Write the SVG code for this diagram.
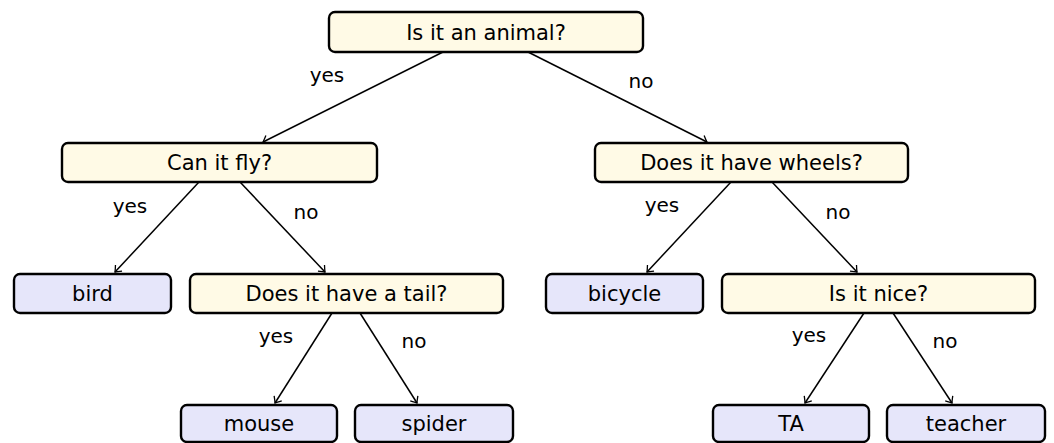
<svg xmlns="http://www.w3.org/2000/svg" width="1054" height="443" viewBox="0 0 1054 443">
<style>
.q{fill:#fffae6;stroke:#000;stroke-width:2.4}
.a{fill:#e6e6fa;stroke:#000;stroke-width:2.4}
.t{font-family:"DejaVu Sans",sans-serif;font-size:21px;text-anchor:middle;fill:#000}
.l{font-family:"DejaVu Sans",sans-serif;font-size:20px;text-anchor:middle;fill:#000}
.e{stroke:#000;stroke-width:1.5;fill:none;marker-end:url(#ah)}
</style>
<defs>
<marker id="ah" markerUnits="userSpaceOnUse" viewBox="-8 -6 12 12" markerWidth="12" markerHeight="12" refX="0" refY="0" orient="auto">
<path d="M-5.5,-4.5 Q-1.5,-1 0,0 Q-1.5,1 -5.5,4.5" fill="none" stroke="#000" stroke-width="1.3"/>
</marker>
</defs>
<rect width="1054" height="443" fill="#fff"/>
<g id="connectors">
<line class="e" x1="443" y1="52" x2="263" y2="142"/>
<line class="e" x1="528" y1="52" x2="707" y2="142"/>
<line class="e" x1="199" y1="182" x2="115" y2="272"/>
<line class="e" x1="240" y1="182" x2="325" y2="272"/>
<line class="e" x1="332" y1="313" x2="275" y2="403"/>
<line class="e" x1="360" y1="313" x2="417" y2="403"/>
<line class="e" x1="731" y1="182" x2="647" y2="272"/>
<line class="e" x1="772" y1="182" x2="857" y2="272"/>
<line class="e" x1="864" y1="313" x2="805" y2="403"/>
<line class="e" x1="893" y1="313" x2="952" y2="403"/>
<text class="l" x="327" y="82">yes</text>
<text class="l" x="641" y="88">no</text>
<text class="l" x="130" y="213">yes</text>
<text class="l" x="306" y="219">no</text>
<text class="l" x="276" y="343">yes</text>
<text class="l" x="414" y="348">no</text>
<text class="l" x="662" y="212">yes</text>
<text class="l" x="838" y="219">no</text>
<text class="l" x="809" y="342">yes</text>
<text class="l" x="945" y="348">no</text>
</g>
<g id="animal"><rect class="q" x="329" y="12" width="314" height="40" rx="6"/><text class="t" x="486" y="39.5">Is it an animal?</text></g>
<g id="fly"><rect class="q" x="62" y="143" width="315" height="39" rx="6"/><text class="t" x="219.5" y="170">Can it fly?</text></g>
<g id="wheels"><rect class="q" x="595" y="143" width="313" height="39" rx="6"/><text class="t" x="751.5" y="170">Does it have wheels?</text></g>
<g id="bird"><rect class="a" x="14" y="274" width="157" height="39" rx="6"/><text class="t" x="92.5" y="301">bird</text></g>
<g id="tail"><rect class="q" x="190" y="274" width="313" height="39" rx="6"/><text class="t" x="346.5" y="301">Does it have a tail?</text></g>
<g id="bicycle"><rect class="a" x="546" y="274" width="157" height="39" rx="6"/><text class="t" x="624.5" y="301">bicycle</text></g>
<g id="nice"><rect class="q" x="722" y="274" width="313" height="39" rx="6"/><text class="t" x="878.5" y="301">Is it nice?</text></g>
<g id="mouse"><rect class="a" x="181" y="405" width="156" height="37" rx="6"/><text class="t" x="259" y="431">mouse</text></g>
<g id="spider"><rect class="a" x="355" y="405" width="158" height="37" rx="6"/><text class="t" x="434" y="431">spider</text></g>
<g id="ta"><rect class="a" x="713" y="405" width="156" height="37" rx="6"/><text class="t" x="791" y="431">TA</text></g>
<g id="teacher"><rect class="a" x="887" y="405" width="158" height="37" rx="6"/><text class="t" x="966" y="431">teacher</text></g>
</svg>
